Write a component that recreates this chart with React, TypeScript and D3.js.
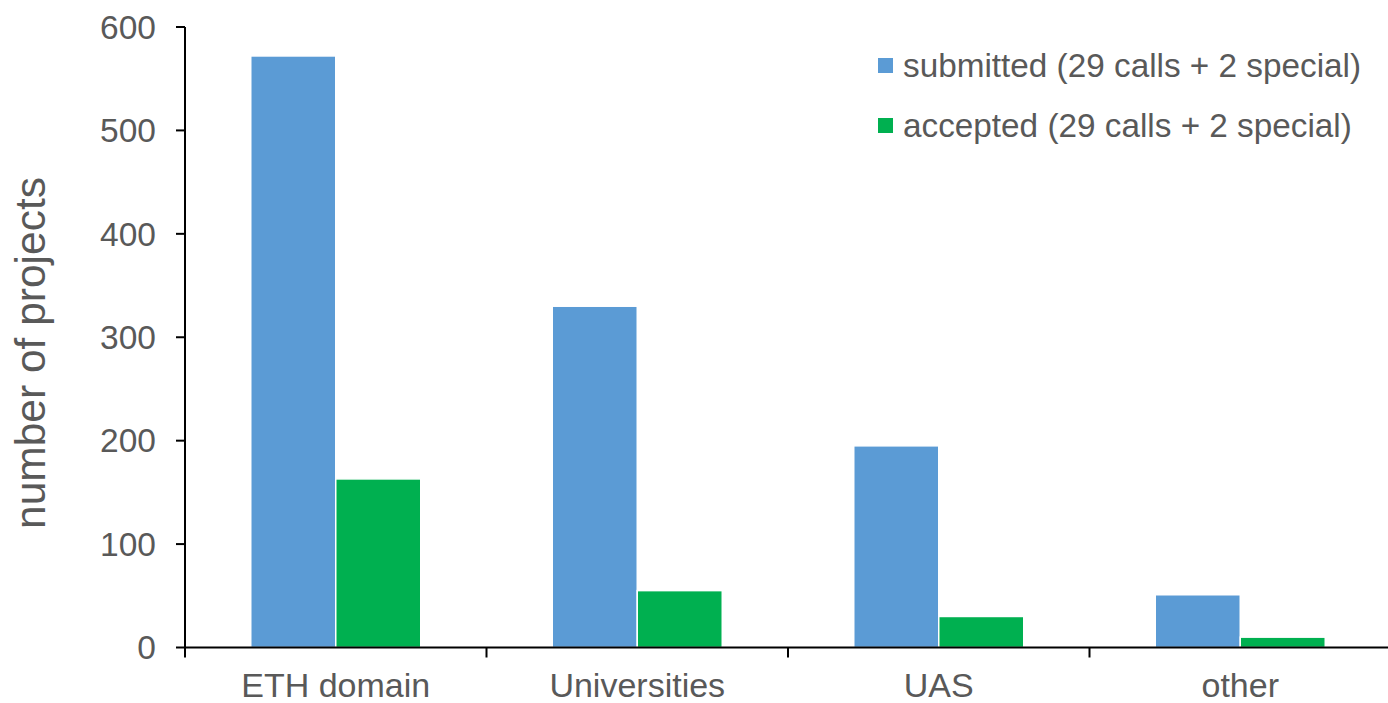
import React from "react";
import * as d3 from "d3";

const categories = ["ETH domain", "Universities", "UAS", "other"];
const seriesNames = ["submitted (29 calls + 2 special)", "accepted (29 calls + 2 special)"];
const submitted = [572, 330, 195, 51];
const accepted = [163, 55, 30, 10];
const yTicks = [0, 100, 200, 300, 400, 500, 600];
const colors = ["#5B9BD5", "#00B050"];

const W = 1388;
const H = 703;
const FONT = "'Liberation Sans', Arial, sans-serif";
const TEXT = "#595959";

export default function App() {
  const x0 = 185;
  const x1 = 1391;
  const y = d3.scaleLinear().domain([0, 600]).range([647.5, 27]);
  const xCat = d3.scaleBand<string>().domain(categories).range([x0, x1]).padding(0);
  const bw = xCat.bandwidth();
  const barW = 85;
  const po = (bw / barW - 2) / 2;
  const xSer = d3.scaleBand<number>().domain([0, 1]).range([0, bw]).paddingInner(0).paddingOuter(po);
  const values = [submitted, accepted];
  const boundaries = d3.range(categories.length + 1).map((i) => x0 + i * bw);

  return (
    <svg width={W} height={H} style={{ position: "absolute", left: 0, top: 0, background: "#fff" }}>
      {categories.map((c, ci) =>
        values.map((vals, si) => (
          <rect
            key={c + si}
            x={(xCat(c) as number) + (xSer(si) as number)}
            y={y(vals[ci])}
            width={xSer.bandwidth()}
            height={y(0) - y(vals[ci])}
            fill={colors[si]}
            stroke="#fff"
            strokeWidth={1.5}
          />
        ))
      )}
      <line x1={x0} x2={x0} y1={y(600)} y2={y(0)} stroke="#000" strokeWidth={2} />
      {yTicks.map((t) => (
        <g key={t}>
          <line x1={x0 - 9} x2={x0} y1={y(t)} y2={y(t)} stroke="#000" strokeWidth={2} />
          <text
            x={156}
            y={y(t)}
            dy="0.35em"
            textAnchor="end"
            fontFamily={FONT}
            fontSize={33.5}
            fill={TEXT}
          >
            {t}
          </text>
        </g>
      ))}
      <line x1={x0} x2={x1} y1={y(0)} y2={y(0)} stroke="#000" strokeWidth={2} />
      {boundaries.map((bx, i) => (
        <line key={i} x1={bx} x2={bx} y1={y(0)} y2={y(0) + 10} stroke="#000" strokeWidth={2} />
      ))}
      {categories.map((c) => (
        <text
          key={c}
          x={(xCat(c) as number) + bw / 2}
          y={697}
          textAnchor="middle"
          fontFamily={FONT}
          fontSize={34}
          fill={TEXT}
        >
          {c}
        </text>
      ))}
      <text
        transform={`translate(45,353) rotate(-90)`}
        textAnchor="middle"
        fontFamily={FONT}
        fontSize={42.5}
        fill={TEXT}
      >
        number of projects
      </text>
      {seriesNames.map((s, i) => (
        <g key={s} transform={`translate(878,${58 + i * 60})`}>
          <rect x={0} y={0} width={15} height={15} fill={colors[i]} />
          <text x={25} y={19} fontFamily={FONT} fontSize={33.3} fill={TEXT}>
            {s}
          </text>
        </g>
      ))}
    </svg>
  );
}
